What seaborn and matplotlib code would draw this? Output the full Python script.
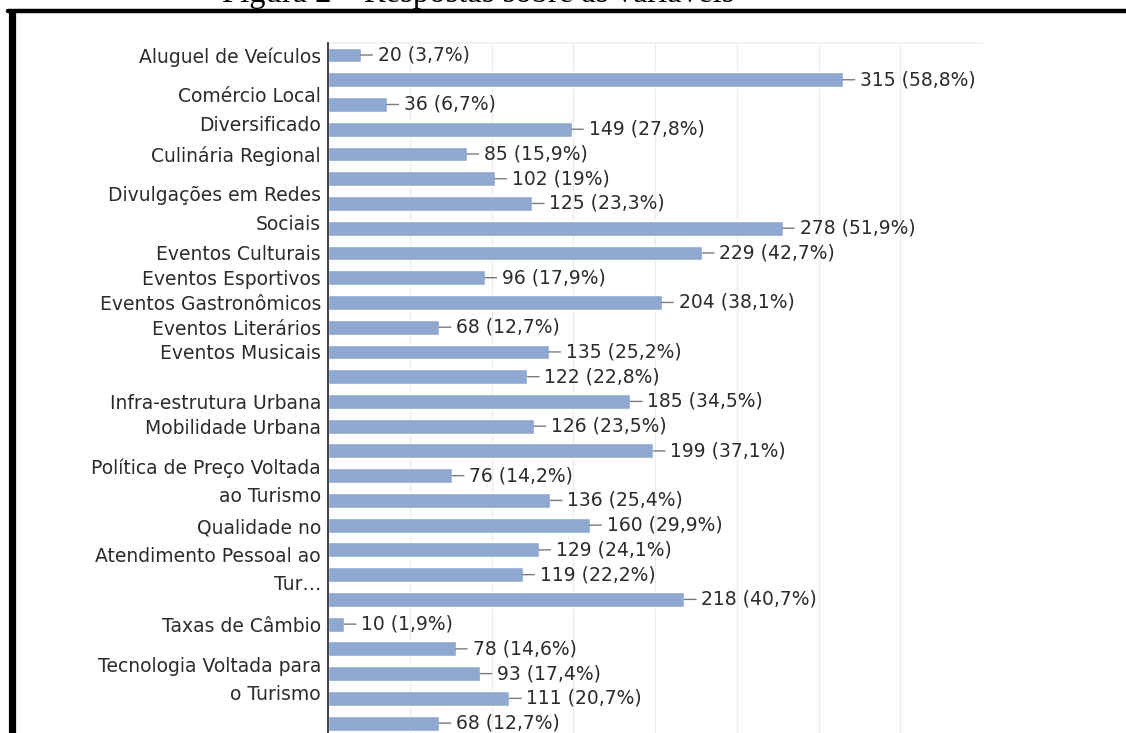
import matplotlib
matplotlib.use("Agg")
import matplotlib.pyplot as plt
from matplotlib.lines import Line2D
import numpy as np
import pandas as pd
import seaborn as sns

# Number of answers per option (multiple choice survey, 536 respondents)
respondents = 536
counts = [20, 315, 36, 149, 85, 102, 125, 278, 229, 96, 204, 68, 135, 122,
          185, 126, 199, 76, 136, 160, 129, 119, 218, 10, 78, 93, 111, 68]

# Category names shown on the axis (blank where the axis skips a name)
tick_labels = [
    "Aluguel de Veículos", "", "Comércio Local\nDiversificado", "",
    "Culinária Regional", "", "Divulgações em Redes\nSociais", "",
    "Eventos Culturais", "Eventos Esportivos", "Eventos Gastronômicos",
    "Eventos Literários", "Eventos Musicais", "", "Infra-estrutura Urbana",
    "Mobilidade Urbana", "", "Política de Preço Voltada\nao Turismo", "", "",
    "Qualidade no\nAtendimento Pessoal ao\nTur…", "", "", "Taxas de Câmbio", "",
    "Tecnologia Voltada para\no Turismo", "", "",
]

title = "Figura 2 – Respostas sobre as variáveis"
grid_ticks = list(range(0, 401, 50))

BAR_COLOR = "#8ea8cf"
TEXT_COLOR = "#2b2b2b"

df = pd.DataFrame({"item": [f"opt{i}" for i in range(len(counts))],
                   "count": counts})

sns.set_theme(style="white")
plt.rcParams["font.family"] = ["DejaVu Sans"]

W, H = 1126, 733
fig = plt.figure(figsize=(W / 100, H / 100), dpi=100)
fig.patch.set_facecolor("white")

ax_left, ax_right, ax_top = 328 / W, 982 / W, 1 - 43 / H
ax = fig.add_axes([ax_left, 0, ax_right - ax_left, ax_top])

sns.barplot(data=df, x="count", y="item", orient="h", color=BAR_COLOR,
            saturation=1, width=0.6, ax=ax, zorder=2)

ax.set_xlim(0, 400)
ax.set_ylim(27.40, -0.485)
ax.set_xticks(grid_ticks)
ax.tick_params(axis="x", length=0, labelbottom=False)
ax.xaxis.grid(True, color="#ececec", lw=1, zorder=0)
ax.yaxis.grid(False)
ax.set_xlabel("")
ax.set_ylabel("")

ax.set_yticks(range(len(counts)))
ax.set_yticklabels(tick_labels, fontsize=13.5, color=TEXT_COLOR, linespacing=1.62)
ax.tick_params(axis="y", length=0, pad=5)

for side in ["right", "bottom"]:
    ax.spines[side].set_visible(False)
ax.spines["top"].set_color("#efefef")
ax.spines["left"].set_color("#333333")
ax.spines["left"].set_linewidth(1.3)
ax.spines["left"].set_zorder(3)

# Value labels with a short leader line from the bar end
for i, c in enumerate(counts):
    pct = f"{round(c / respondents * 100, 1):g}".replace(".", ",")
    ax.annotate(f"{c} ({pct}%)", xy=(c, i), xytext=(17, 0),
                textcoords="offset pixels", va="center", ha="left",
                fontsize=13.5, color=TEXT_COLOR,
                arrowprops=dict(arrowstyle="-", color="#7a7a7a", lw=1,
                                relpos=(0, 0.5), shrinkA=1.5, shrinkB=0))

# Page caption (its upper part runs past the top edge) and frame rules
fig.text(478 / W, 1 - 2 / H, title, ha="center", va="baseline",
         fontsize=23.5, family=["Liberation Serif"], color="black")
fig.add_artist(Line2D([8 / W, 1], [1 - 11 / H, 1 - 11 / H],
                      transform=fig.transFigure, color="black", lw=3.2))
fig.add_artist(Line2D([11.5 / W, 11.5 / W], [0, 1 - 13 / H],
                      transform=fig.transFigure, color="black", lw=5.2,
                      solid_capstyle="round"))

fig.savefig("out.png", dpi=100)
